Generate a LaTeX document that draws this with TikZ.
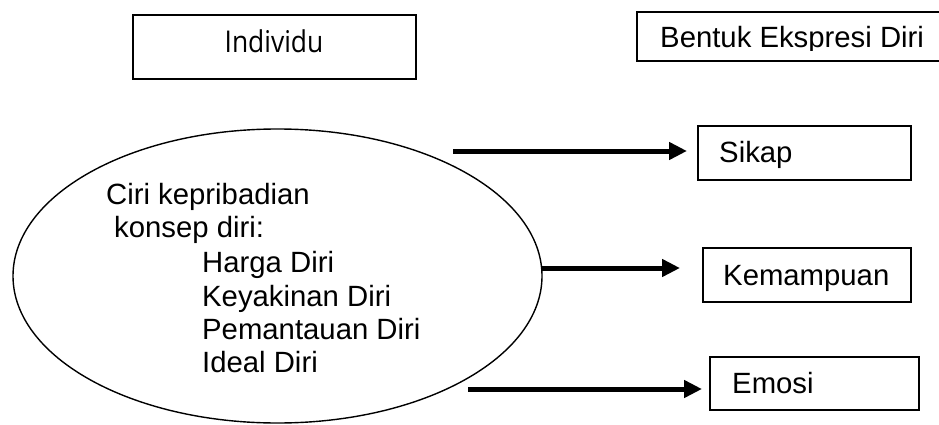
\documentclass[tikz,border=0pt]{standalone}
\usepackage{fontspec}
\setmainfont{Liberation Sans}
\newfontfamily\indfont[FakeStretch=0.88]{Open Sans}
\usetikzlibrary{arrows.meta,shapes.geometric}
\begin{document}
\begin{tikzpicture}[x=1pt,y=-1pt,
  boxline/.style={draw=black,line width=1.6pt},
  lbl/.style={anchor=base west,inner sep=0pt,font=\fontsize{29.3}{34}\selectfont},
  bigarrow/.style={line width=5pt,-{Triangle[length=18pt,width=17pt]}},
  ]
\useasboundingbox (0,0) rectangle (939,425);
% Individu
\node[boxline,minimum width=283pt,minimum height=64pt,inner sep=0pt,anchor=north west] (ind) at (132,14) {};
\node[anchor=base,inner sep=0pt,font=\indfont\fontsize{30}{34}\selectfont] (indt) at (274,53) {Individu};
% Bentuk Ekspresi Diri
\coordinate (bA) at (637,12);
\coordinate (bB) at (945,61);
\draw[boxline] (bA) rectangle (bB);
\begin{scope}
\clip (600,10) rectangle (939,50.5);
\node[lbl] (bent) at (660,48) {Bentuk Ekspresi Diri};
\end{scope}
% Ellipse
\node[ellipse,draw=black,line width=1.4pt,minimum width=529pt,minimum height=294pt,inner sep=0pt] (ell) at (277.5,276) {};
\node[lbl] (t1) at (106,204) {Ciri kepribadian};
\node[lbl] (t2) at (114,237) {konsep diri:};
\node[lbl] (t3) at (202,272) {Harga Diri};
\node[lbl] (t4) at (202,306) {Keyakinan Diri};
\node[lbl] (t5) at (202,339) {Pemantauan Diri};
\node[lbl] (t6) at (202,372) {Ideal Diri};
% right boxes
\node[boxline,minimum width=213pt,minimum height=54pt,inner sep=0pt,anchor=north west] (sik) at (697,125) {};
\node[lbl] (sikt) at (719,162) {Sikap};
\node[boxline,minimum width=208pt,minimum height=54pt,inner sep=0pt,anchor=north west] (kem) at (702,247) {};
\node[lbl] (kemt) at (723,285) {Kemampuan};
\node[boxline,minimum width=209pt,minimum height=53pt,inner sep=0pt,anchor=north west] (emo) at (709,356) {};
\node[lbl] (emot) at (732,393) {Emosi};
% arrows
\coordinate (a1s) at (453,151);
\coordinate (a1e) at (687,151);
\coordinate (a2s) at (542,268);
\coordinate (a2e) at (680,268);
\coordinate (a3s) at (468,389);
\coordinate (a3e) at (702,389);
\draw[bigarrow] (a1s) -- (a1e);
\draw[bigarrow] (a2s) -- (a2e);
\draw[bigarrow] (a3s) -- (a3e);
\end{tikzpicture}
\end{document}
